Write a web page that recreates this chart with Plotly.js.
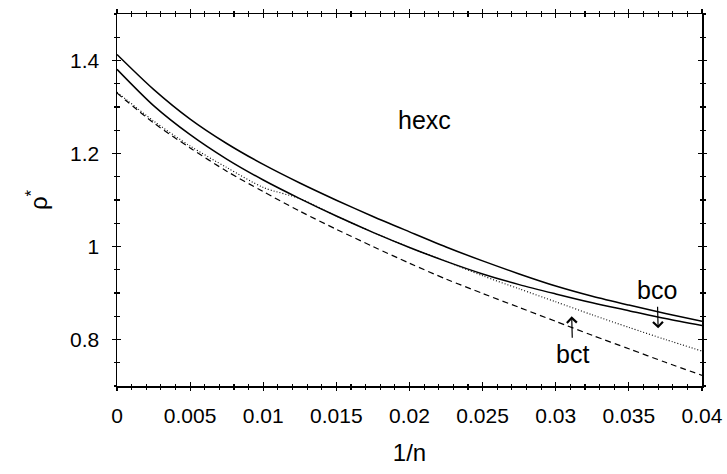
<!DOCTYPE html>
<html>
<head>
<meta charset="utf-8">
<script src="https://cdn.plot.ly/plotly-3.0.1.min.js"></script>
<style>html,body{margin:0;padding:0;background:#fff}#chart{width:727px;height:474px}</style>
</head>
<body>
<div id="chart"></div>
<script>
// 1/n sample positions
var xA = [0, 0.0025, 0.005, 0.0075, 0.01, 0.0125, 0.015, 0.0175, 0.02, 0.0225, 0.025, 0.0275, 0.03, 0.0325, 0.035, 0.0375, 0.04];
// top solid curve
var rhoA = [1.413, 1.338, 1.274, 1.2215, 1.1765, 1.1365, 1.0995, 1.0645, 1.0315, 0.999, 0.969, 0.941, 0.915, 0.893, 0.874, 0.856, 0.839];
// second solid curve
var rhoB = [1.381, 1.303, 1.2405, 1.188, 1.143, 1.103, 1.0655, 1.0305, 0.998, 0.968, 0.941, 0.918, 0.898, 0.879, 0.862, 0.845, 0.830];
// dotted curve
var rhoC = [1.332, 1.270, 1.216, 1.170, 1.127, 1.103, 1.0655, 1.0305, 0.998, 0.968, 0.937, 0.909, 0.881, 0.853, 0.826, 0.800, 0.775];
// dashed curve
var rhoD = [1.330, 1.266, 1.212, 1.162, 1.118, 1.076, 1.037, 1.000, 0.964, 0.930, 0.899, 0.869, 0.839, 0.809, 0.780, 0.751, 0.723];

var xTicks = [0, 0.005, 0.01, 0.015, 0.02, 0.025, 0.03, 0.035, 0.04];
var xTickText = ['0', '0.005', '0.01', '0.015', '0.02', '0.025', '0.03', '0.035', '0.04'];
var yTicks = [0.8, 1, 1.2, 1.4];
var yTickText = ['0.8', '1', '1.2', '1.4'];

var FONT = 'Liberation Sans, Arial, Helvetica, sans-serif';

var traces = [
  {x: xA, y: rhoA, mode: 'lines', line: {color: '#000', width: 1.5, shape: 'spline', smoothing: 0.8}, showlegend: false},
  {x: xA, y: rhoB, mode: 'lines', line: {color: '#000', width: 1.5, shape: 'spline', smoothing: 0.8}, showlegend: false},
  {x: xA, y: rhoC, mode: 'lines', line: {color: '#000', width: 1.1, dash: '1px,2px', shape: 'spline', smoothing: 0.8}, showlegend: false},
  {x: xA, y: rhoD, mode: 'lines', line: {color: '#000', width: 1.2, dash: '6px,4px', shape: 'spline', smoothing: 0.8}, showlegend: false},
  {x: [], y: [], xaxis: 'x2', yaxis: 'y2', mode: 'lines', showlegend: false}
];

var common = {
  showgrid: false, zeroline: false, linecolor: '#000', linewidth: 1.5,
  tickcolor: '#000', tickwidth: 1.2
};

var layout = {
  width: 727, height: 474,
  margin: {l: 117, r: 25, t: 14, b: 88},
  paper_bgcolor: '#fff', plot_bgcolor: '#fff',
  font: {family: FONT, color: '#000', size: 21},
  showlegend: false,
  xaxis: Object.assign({}, common, {
    range: [0, 0.04], showline: true, mirror: 'allticks', ticks: 'inside', ticklen: 4,
    tickvals: xTicks, ticktext: xTickText, tickfont: {size: 21, family: FONT},
    ticklabelstandoff: 10,
    minor: {dtick: 0.001, ticks: 'inside', ticklen: 2.5, tickcolor: '#000', tickwidth: 1.1},
    title: {text: '1/n', font: {size: 24, family: FONT}, standoff: 18}
  }),
  yaxis: Object.assign({}, common, {
    range: [0.7, 1.5], showline: true, mirror: 'allticks', ticks: 'inside', ticklen: 4,
    tickvals: yTicks, ticktext: yTickText, tickfont: {size: 21, family: FONT},
    ticklabelstandoff: 12,
    minor: {dtick: 0.05, ticks: 'inside', ticklen: 2.5, tickcolor: '#000', tickwidth: 1.1},
    title: {text: 'ρ<sup>*</sup>', font: {size: 24, family: FONT}, standoff: 15}
  }),
  xaxis2: Object.assign({}, common, {
    range: [0, 0.04], overlaying: 'x', anchor: 'y2', showline: false, mirror: 'allticks', ticks: 'outside', ticklen: 4,
    tickvals: xTicks, showticklabels: false,
    minor: {dtick: 0.001, ticks: 'outside', ticklen: 2.5, tickcolor: '#000', tickwidth: 1.1}
  }),
  yaxis2: Object.assign({}, common, {
    range: [0.7, 1.5], overlaying: 'y', anchor: 'x2', showline: false, mirror: 'allticks', ticks: 'outside', ticklen: 4,
    tickvals: yTicks, showticklabels: false,
    minor: {dtick: 0.05, ticks: 'outside', ticklen: 2.5, tickcolor: '#000', tickwidth: 1.1}
  }),
  annotations: [
    {x: 0.0210, y: 1.271, xref: 'x', yref: 'y', text: 'hexc', showarrow: false, font: {size: 25, family: FONT}},
    {x: 0.0370, y: 0.824, xref: 'x', yref: 'y', text: 'bco', showarrow: true, ax: -1, ay: -38,
     font: {size: 25, family: FONT}, borderpad: 0,
     arrowhead: 4, arrowsize: 1.6, arrowwidth: 1.2, arrowcolor: '#000', standoff: 0, startstandoff: 2},
    {x: 0.03109, y: 0.850, xref: 'x', yref: 'y', text: 'bct', showarrow: true, ax: 1, ay: 38,
     font: {size: 25, family: FONT}, borderpad: 0,
     arrowhead: 4, arrowsize: 1.6, arrowwidth: 1.2, arrowcolor: '#000', standoff: 0, startstandoff: 2}
  ]
};

Plotly.newPlot('chart', traces, layout, {displayModeBar: false, staticPlot: true});
</script>
</body>
</html>
